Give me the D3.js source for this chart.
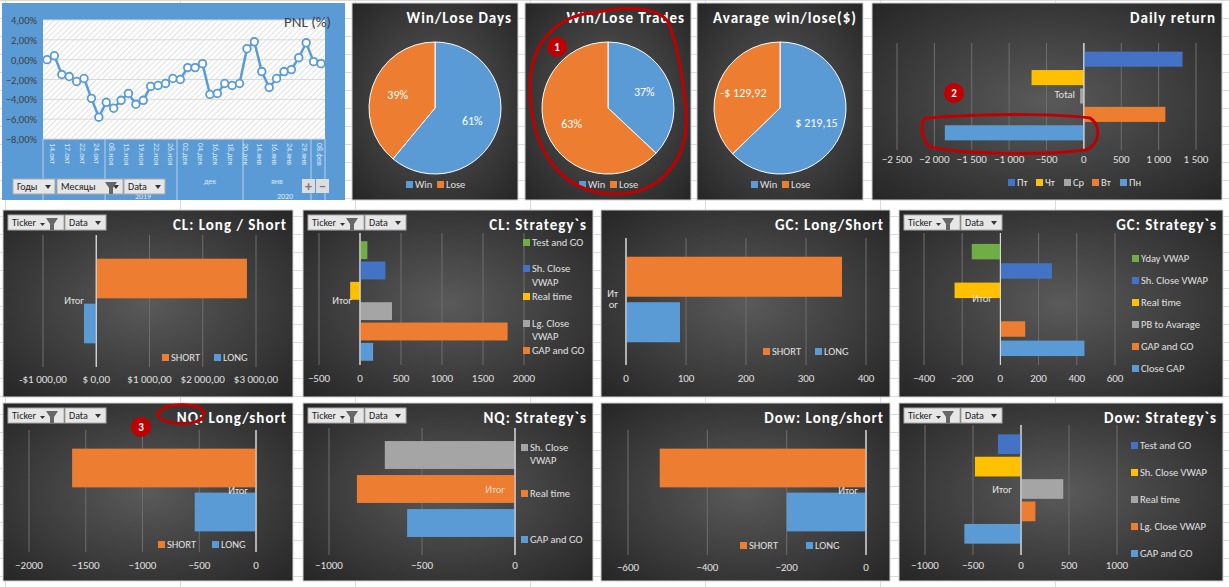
<!DOCTYPE html>
<html><head><meta charset="utf-8">
<script src="https://cdn.jsdelivr.net/npm/d3@7.9.0/dist/d3.min.js"></script>
<style>body{margin:0;background:#fff}svg{display:block;font-family:Calibri,Carlito,"Liberation Sans",sans-serif}</style>
</head><body><svg width="1229" height="587"></svg>
<script>
// ---- data ----
const pnlValues = [0,0.4,-1.5,-1.7,-2.2,-1.9,-3.9,-5.8,-4.3,-4.9,-4.1,-3.4,-4.5,-4.1,-2.7,-2.6,-2.4,-1.9,-2.0,-0.8,-0.8,-0.4,-3.5,-3.4,-2.4,-2.6,-2.4,1.1,1.8,-1.2,-2.8,-1.9,-1.2,-1.0,0.2,1.7,-0.2,-0.4];
const pnlTicks = [4,2,0,-2,-4,-6,-8];
const pnlDates = ['14.окт','17.окт','22.окт','24.окт','08.ноя','15.ноя','19.ноя','22.ноя','26.ноя','02.дек','04.дек','16.дек','18.дек','20.дек','14.янв','16.янв','24.янв','29.янв','08.фев'];

const winLoseDays = [61,39];
const winLoseTrades = [37,63];
const avgWinLose = [219.15,129.92];

const dailyDays = ['Пт','Чт','Ср','Вт','Пн'];
const dailyReturn = [1320,-700,-50,1090,-1860];

const clLS = [2830,-230];
const clStratNames = ['Test and GO','Sh. Close VWAP','Real time','Lg. Close VWAP','GAP and GO',''];
const clStrat = [90,310,-120,390,1800,160];
const gcLS = [360,90];
const gcStratNames = ['Yday VWAP','Sh. Close VWAP','Real time','PB to Avarage','GAP and GO','Close GAP'];
const gcStrat = [-150,270,-240,0,130,440];
const nqLS = [-1620,-540];
const nqStratNames = ['Sh. Close VWAP','Real time','GAP and GO'];
const nqStrat = [-700,-850,-580];
const dowLS = [-520,-200];
const dowStratNames = ['Test and GO','Sh. Close VWAP','Real time','Lg. Close VWAP','GAP and GO'];
const dowStrat = [-240,-480,440,150,-590];

const C = {blue:'#5b9bd5',orange:'#ed7d31',gray:'#a5a5a5',yellow:'#ffc000',dblue:'#4472c4',green:'#70ad47'};

const svg = d3.select('svg');
const defs = svg.append('defs');
const rg = defs.append('radialGradient').attr('id','dark').attr('cx','50%').attr('cy','50%').attr('r','70%');
rg.append('stop').attr('offset','0%').attr('stop-color','#5a5a5a');
rg.append('stop').attr('offset','100%').attr('stop-color','#262626');
const pat = defs.append('pattern').attr('id','hatch').attr('width',4).attr('height',4)
  .attr('patternUnits','userSpaceOnUse').attr('patternTransform','rotate(45)');
pat.append('rect').attr('width',4).attr('height',4).attr('fill','#fff');
pat.append('line').attr('x1',0).attr('y1',0).attr('x2',0).attr('y2',4).attr('stroke','#d8d8d8').attr('stroke-width',1.5);

// excel grid background
d3.range(0,600,18).forEach(y => svg.append('line').attr('x1',0).attr('x2',1229).attr('y1',y+0.5).attr('y2',y+0.5).attr('stroke','#dadada'));
d3.range(5,1229,175).forEach(x => svg.append('line').attr('y1',0).attr('y2',587).attr('x1',x+0.5).attr('x2',x+0.5).attr('stroke','#dadada'));

function panel(x,y,w,h,title){
  const g = svg.append('g');
  g.append('rect').attr('x',x).attr('y',y).attr('width',w).attr('height',h).attr('fill','url(#dark)').attr('stroke','#d0d0d0');
  g.append('text').attr('x',x+w-6).attr('y',y+20).attr('text-anchor','end').attr('fill','#fff')
    .attr('font-weight','bold').attr('font-size',15).attr('letter-spacing',1).text(title);
  return g;
}
function buttons(g,x,y){
  g.append('rect').attr('x',x).attr('y',y).attr('width',56).attr('height',15).attr('fill','#e6e6e6').attr('stroke','#aaa');
  g.append('text').attr('x',x+4).attr('y',y+11).attr('font-size',10).attr('fill','#222').text('Ticker');
  g.append('path').attr('d',`M${x+38},${y+3}h12l-4,6v6h-4v-6z`).attr('fill','#666');
  g.append('path').attr('d',`M${x+32},${y+8}h5l-2.5,3z`).attr('fill','#333');
  g.append('rect').attr('x',x+57).attr('y',y).attr('width',41).attr('height',15).attr('fill','#e6e6e6').attr('stroke','#aaa');
  g.append('text').attr('x',x+61).attr('y',y+11).attr('font-size',10).attr('fill','#222').text('Data');
  g.append('path').attr('d',`M${x+87},${y+6}h6l-3,4z`).attr('fill','#333');
}
function legendItem(g,x,y,color,label){
  g.append('rect').attr('x',x).attr('y',y-7).attr('width',7).attr('height',7).attr('fill',color);
  g.append('text').attr('x',x+9).attr('y',y).attr('font-size',10.5).attr('fill','#e0e0e0').text(label);
}

// generic horizontal bar chart
function hbar(o){
  const g = panel(o.x,o.y,o.w,o.h,o.title);
  if(o.btn) buttons(g,o.x+5,o.y+5);
  const x = d3.scaleLinear().domain(o.dom).range(o.xr);
  const y = d3.scaleBand().domain(d3.range(o.values.length)).range(o.yr).paddingInner(o.pad).paddingOuter(o.pad/2);
  x.ticks(o.nt).concat(o.extraTicks||[]).forEach(t=>{
    if(t<o.dom[0]||t>o.dom[1]) return;
    g.append('line').attr('x1',x(t)).attr('x2',x(t)).attr('y1',o.gy[0]).attr('y2',o.gy[1])
      .attr('stroke',t===0?'#d9d9d9':'#6e6e6e').attr('stroke-width',1);
    g.append('text').attr('x',x(t)).attr('y',o.ty).attr('text-anchor','middle').attr('font-size',11).attr('fill','#e0e0e0').text(o.fmt(t));
  });
  g.selectAll('rect.bar').data(o.values).join('rect').attr('class','bar')
    .attr('x',d=>x(Math.min(0,d))).attr('width',d=>Math.max(Math.abs(x(d)-x(0)),0))
    .attr('y',(d,i)=>y(i)).attr('height',y.bandwidth()).attr('fill',(d,i)=>o.colors[i]);
  g.append('line').attr('x1',x(0)).attr('x2',x(0)).attr('y1',o.gy[0]).attr('y2',o.gy[1]).attr('stroke','#d9d9d9');
  if(o.cat) o.cat.forEach((s,i)=>g.append('text').attr('x',o.catx).attr('y',o.caty+i*11).attr('text-anchor','end')
    .attr('font-size',10.5).attr('fill','#e0e0e0').text(s));
  if(o.legend) o.legend.forEach(l=>legendItem(g,l[0],l[1],l[2],l[3]));
  return {g,x,y};
}
const fmtN = d3.format('d');
const fmtSp = t => d3.format(',')(t).replace(/,/g,' ').replace('-','-');

// ---- PNL line chart ----
{
  const g = svg.append('g');
  g.append('rect').attr('x',2).attr('y',3).attr('width',343).attr('height',197).attr('fill','#5b9bd5');
  const X0=43, X1=325, Y0=20, Y1=139;
  g.append('rect').attr('x',X0).attr('y',Y0).attr('width',X1-X0).attr('height',Y1-Y0).attr('fill','url(#hatch)');
  const y = d3.scaleLinear().domain([-8,4]).range([Y1,Y0]);
  const x = d3.scalePoint().domain(d3.range(pnlValues.length)).range([47,321]);
  pnlTicks.forEach(t=>{
    g.append('line').attr('x1',X0).attr('x2',X1).attr('y1',y(t)).attr('y2',y(t)).attr('stroke','#d9d9d9');
    g.append('text').attr('x',37).attr('y',y(t)+4).attr('text-anchor','end').attr('font-size',10.5).attr('fill','#404040')
      .text(d3.format('.2f')(t).replace('.',',')+'%');
  });
  g.append('path').datum(pnlValues).attr('fill','none').attr('stroke','#5b9bd5').attr('stroke-width',2.5)
    .attr('d',d3.line().x((d,i)=>x(i)).y(d=>y(d)));
  g.selectAll('circle').data(pnlValues).join('circle').attr('cx',(d,i)=>x(i)).attr('cy',d=>y(d)).attr('r',3.8)
    .attr('fill','#fff').attr('stroke','#5b9bd5').attr('stroke-width',1.8);
  g.append('text').attr('x',331).attr('y',27).attr('text-anchor','end').attr('font-size',15).attr('fill','#404040').text('PNL (%)');
  // category axis
  pnlDates.forEach((s,k)=>{
    const px = x(Math.min(k*2,pnlValues.length-1));
    g.append('text').attr('transform',`translate(${px+3},${Y1+4}) rotate(90)`).attr('font-size',8).attr('fill','#dbe7f5').text(s);
  });
  [X0,105,177,243,311,X1].forEach(px=>g.append('line').attr('x1',px).attr('x2',px).attr('y1',Y1).attr('y2',200).attr('stroke','#b8d1ec'));
  g.append('text').attr('x',210).attr('y',184).attr('text-anchor','middle').attr('font-size',8).attr('fill','#dbe7f5').text('дек');
  g.append('text').attr('x',277).attr('y',184).attr('text-anchor','middle').attr('font-size',8).attr('fill','#dbe7f5').text('янв');
  g.append('text').attr('x',143).attr('y',199).attr('text-anchor','middle').attr('font-size',8).attr('fill','#dbe7f5').text('2019');
  g.append('text').attr('x',285).attr('y',199).attr('text-anchor','middle').attr('font-size',8).attr('fill','#dbe7f5').text('2020');
  [['Годы',13,42],['Месяцы',57,66],['Data',124,41]].forEach(b=>{
    g.append('rect').attr('x',b[1]).attr('y',179).attr('width',b[2]).attr('height',15).attr('fill','#e6e6e6').attr('stroke','#aaa');
    g.append('text').attr('x',b[1]+4).attr('y',190).attr('font-size',10).attr('fill','#222').text(b[0]);
    g.append('path').attr('d',`M${b[1]+b[2]-10},${185}h6l-3,4z`).attr('fill','#333');
  });
  g.append('path').attr('d','M105,182h12l-4,6v6h-4v-6z').attr('fill','#666');
  g.append('rect').attr('x',302).attr('y',179).attr('width',13).attr('height',14).attr('fill','#ddd');
  g.append('rect').attr('x',316).attr('y',179).attr('width',13).attr('height',14).attr('fill','#ddd');
  g.append('text').attr('x',308.5).attr('y',191).attr('text-anchor','middle').attr('font-size',14).attr('font-weight','bold').attr('fill','#777').text('+');
  g.append('text').attr('x',322.5).attr('y',191).attr('text-anchor','middle').attr('font-size',14).attr('font-weight','bold').attr('fill','#777').text('−');
}

// ---- pies ----
function pie(px,title,vals,labels){
  const g = panel(px,3,166,197,title);
  const cx=px+83, cy=108, r=66;
  const arcs = d3.pie().sort(null)(vals);
  const arc = d3.arc().innerRadius(0).outerRadius(r);
  const la = d3.arc().innerRadius(r*0.6).outerRadius(r*0.6);
  const cols=[C.blue,C.orange];
  arcs.forEach((a,i)=>{
    g.append('path').attr('d',arc(a)).attr('transform',`translate(${cx},${cy})`).attr('fill',cols[i]).attr('stroke','#fff').attr('stroke-width',1);
    const c = la.centroid(a);
    g.append('text').attr('x',cx+c[0]).attr('y',cy+c[1]+4).attr('text-anchor','middle').attr('font-size',12).attr('fill','#fff').text(labels[i]);
  });
  legendItem(g,px+54,188,C.blue,'Win');
  legendItem(g,px+85,188,C.orange,'Lose');
}
pie(352,'Win/Lose Days',winLoseDays,winLoseDays.map(v=>v+'%'));
pie(525,'Win/Lose Trades',winLoseTrades,winLoseTrades.map(v=>v+'%'));
pie(697,'Avarage win/lose($)',avgWinLose,['$ '+d3.format('.2f')(avgWinLose[0]).replace('.',','),'-$ '+d3.format('.2f')(avgWinLose[1]).replace('.',',')]);

// ---- daily return ----
hbar({x:872,y:3,w:350,h:197,title:'Daily return',dom:[-2500,1500],xr:[897,1196],yr:[50,142],pad:0.18,nt:8,
  values:dailyReturn,colors:[C.dblue,C.yellow,C.gray,C.orange,C.blue],gy:[43,150],ty:163,fmt:fmtSp,
  cat:['Total'],catx:1075,caty:98,
  legend:dailyDays.map((d,i)=>[1008+i*28-(i>2?0:0),186,[C.dblue,C.yellow,C.gray,C.orange,C.blue][i],d])});

// ---- row 2 ----
hbar({x:3,y:210,w:290,h:187,title:'CL: Long / Short',btn:1,dom:[-1000,3000],xr:[43,256],yr:[256,346],pad:0.12,nt:4,
  values:clLS,colors:[C.orange,C.blue],gy:[235,367],ty:383,
  fmt:t=>t===0?'$ 0,00':(t<0?'-$':'$')+fmtSp(Math.abs(t))+',00',
  cat:['Итог'],catx:84,caty:304,legend:[[162,361,C.orange,'SHORT'],[214,361,C.blue,'LONG']]});
hbar({x:303,y:210,w:290,h:187,title:'CL: Strategy`s',btn:1,dom:[-500,2000],xr:[319,524],yr:[240,362],pad:0.12,nt:5,
  values:clStrat,colors:[C.green,C.dblue,C.yellow,C.gray,C.orange,C.blue],gy:[233,365],ty:382,fmt:fmtN,
  cat:['Итог'],catx:352,caty:304,
  legend:[[523,246,C.green,'Test and GO'],[523,272,C.dblue,'Sh. Close'],[523,300,C.yellow,'Real time'],[523,327,C.gray,'Lg. Close'],[523,354,C.orange,'GAP and GO']]});
svg.append('text').attr('x',532).attr('y',286).attr('font-size',10.5).attr('fill','#e0e0e0').text('VWAP');
svg.append('text').attr('x',532).attr('y',340).attr('font-size',10.5).attr('fill','#e0e0e0').text('VWAP');
hbar({x:601,y:210,w:289,h:187,title:'GC: Long/Short',dom:[0,400],xr:[626,866],yr:[254,345],pad:0.12,nt:4,
  values:gcLS,colors:[C.orange,C.blue],gy:[238,365],ty:382,fmt:fmtN,
  cat:['Ит','ог'],catx:618,caty:297,legend:[[763,355,C.orange,'SHORT'],[815,355,C.blue,'LONG']]});
hbar({x:899,y:210,w:324,h:187,title:'GC: Strategy`s',btn:1,dom:[-400,600],xr:[924,1115],yr:[242,358],pad:0.2,nt:5,
  values:gcStrat,colors:[C.green,C.dblue,C.yellow,C.gray,C.orange,C.blue],gy:[233,365],ty:382,fmt:fmtN,
  cat:['Итог'],catx:992,caty:302,
  legend:gcStratNames.map((s,i)=>[1132,262+i*22,[C.green,C.dblue,C.yellow,C.gray,C.orange,C.blue][i],s])});

// ---- row 3 ----
hbar({x:3,y:403,w:290,h:178,title:'NQ: Long/short',btn:1,dom:[-2000,0],xr:[29,256],yr:[446,534],pad:0.12,nt:4,
  values:nqLS,colors:[C.orange,C.blue],gy:[430,552],ty:569,fmt:fmtN,
  cat:['Итог'],catx:248,caty:494,legend:[[158,548,C.orange,'SHORT'],[212,548,C.blue,'LONG']]});
hbar({x:303,y:403,w:290,h:178,title:'NQ: Strategy`s',btn:1,dom:[-1000,0],xr:[329,515],yr:[438,540],pad:0.18,nt:2,
  values:nqStrat,colors:[C.gray,C.orange,C.blue],gy:[428,555],ty:569,fmt:fmtN,
  legend:[[521,451,C.gray,'Sh. Close'],[521,497,C.orange,'Real time'],[521,543,C.blue,'GAP and GO']]});
svg.append('text').attr('x',530).attr('y',464).attr('font-size',10.5).attr('fill','#e0e0e0').text('VWAP');
svg.append('text').attr('x',505).attr('y',493).attr('text-anchor','end').attr('font-size',10.5).attr('fill','#f6d6c0').text('Итог');
hbar({x:601,y:403,w:289,h:178,title:'Dow: Long/short',dom:[-600,0],xr:[628,866],yr:[446,534],pad:0.12,nt:3,
  values:dowLS,colors:[C.orange,C.blue],gy:[430,555],ty:571,fmt:fmtN,
  cat:['Итог'],catx:858,caty:494,legend:[[740,549,C.orange,'SHORT'],[806,549,C.blue,'LONG']]});
hbar({x:899,y:403,w:324,h:178,title:'Dow: Strategy`s',btn:1,dom:[-1000,1000],xr:[925,1117],yr:[433,545],pad:0.12,nt:4,
  values:dowStrat,colors:[C.dblue,C.yellow,C.gray,C.orange,C.blue],gy:[425,555],ty:569,fmt:fmtN,
  cat:['Итог'],catx:1012,caty:493,
  legend:dowStratNames.map((s,i)=>[1131,449+i*27,[C.dblue,C.yellow,C.gray,C.orange,C.blue][i],s])});

// ---- red annotations ----
const red='#c00000';
const ann = svg.append('g').attr('fill','none').attr('stroke',red).attr('stroke-width',3).attr('stroke-linecap','round');
ann.append('path').attr('d','M598,12 C560,14 528,40 530,92 C532,150 560,192 612,194 C660,196 690,160 686,110 C682,70 676,40 668,22 C660,8 630,6 598,12');
ann.append('path').attr('d','M925,118 C1000,113 1060,114 1090,118 C1102,125 1100,146 1085,150 C1040,156 960,154 930,147 C921,140 920,124 925,118');
ann.append('path').attr('d','M158,412 C170,402 200,403 204,412 C206,421 190,425 176,423 C165,422 157,419 158,412');
[[557,47,'1'],[954,93,'2'],[141,427,'3']].forEach(a=>{
  svg.append('circle').attr('cx',a[0]).attr('cy',a[1]).attr('r',10).attr('fill',red);
  svg.append('text').attr('x',a[0]).attr('y',a[1]+4).attr('text-anchor','middle').attr('font-size',11).attr('font-weight','bold').attr('fill','#fff').text(a[2]);
});
</script></body></html>
